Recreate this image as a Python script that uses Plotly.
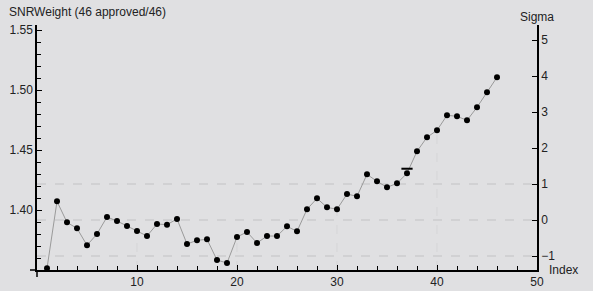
import plotly.graph_objects as go

index = list(range(1, 47))
snr_weight = [1.3514, 1.4072, 1.3897, 1.3847, 1.3706, 1.3800, 1.3942, 1.3908, 1.3867, 1.3825,
              1.3783, 1.3883, 1.3878, 1.3925, 1.3717, 1.3747, 1.3756, 1.3583, 1.3558, 1.3775,
              1.3817, 1.3725, 1.3783, 1.3783, 1.3864, 1.3822, 1.4006, 1.4097, 1.4022, 1.4006,
              1.4133, 1.4114, 1.4297, 1.4239, 1.4189, 1.4222, 1.4306, 1.4489, 1.4606, 1.4664,
              1.4789, 1.4781, 1.4747, 1.4856, 1.4981, 1.5106]
flag_index = [37]
flag_value = [1.4344]
sigma_mean = 1.39167
sigma_sd = 0.03
sigma_lines = [-1, 0, 1]
y_range = [1.35, 1.55417]
x_range = [0, 50]
left_ticks = [1.40, 1.45, 1.50, 1.55]
right_ticks = [-1, 0, 1, 2, 3, 4, 5]
title_text = "SNRWeight (46 approved/46)"

BG = "#e0e0e2"
FONT = "Liberation Sans"
TXT = "#222222"
PLOT_H = 245.0
PLOT_W = 500.0

fig = go.Figure()

shapes = []
for xv in (10, 20, 30, 40):
    shapes.append(dict(type="line", xref="x", yref="y", x0=xv, x1=xv,
                       y0=y_range[0], y1=snr_weight[index.index(xv)],
                       line=dict(color="#d5d5d7", width=1, dash="dash"), layer="below"))
for s in sigma_lines:
    yv = sigma_mean + s * sigma_sd
    shapes.append(dict(type="line", xref="x", yref="y", x0=x_range[0], x1=x_range[1],
                       y0=yv, y1=yv, line=dict(color="#c2c2c4", width=1, dash="dash"),
                       layer="below"))
shapes.append(dict(type="line", xref="paper", yref="paper", x0=-7 / PLOT_W, x1=0, y0=0, y1=0,
                   line=dict(color="black", width=1.5)))
shapes.append(dict(type="line", xref="paper", yref="paper", x0=0, x1=0, y0=0, y1=-7 / PLOT_H,
                   line=dict(color="black", width=1.5)))

fig.add_trace(go.Scatter(x=index, y=snr_weight, mode="lines+markers",
                         line=dict(color="#9a9a9a", width=1),
                         marker=dict(color="black", size=6),
                         showlegend=False, cliponaxis=False))
fig.add_trace(go.Scatter(x=flag_index, y=flag_value, mode="markers",
                         marker=dict(symbol="line-ew", size=8,
                                     line=dict(color="black", width=2)),
                         showlegend=False))
fig.add_trace(go.Scatter(x=[x_range[0]], y=[0], yaxis="y2", mode="markers",
                         marker=dict(opacity=0), showlegend=False, hoverinfo="skip"))

y2_range = [(y_range[0] - sigma_mean) / sigma_sd, (y_range[1] - sigma_mean) / sigma_sd]

fig.update_layout(
    width=593, height=291,
    margin=dict(l=37, r=56, t=25, b=21, autoexpand=False),
    paper_bgcolor=BG, plot_bgcolor=BG,
    font=dict(family=FONT, size=12, color=TXT),
    shapes=shapes,
    xaxis=dict(range=x_range, showgrid=False, zeroline=False, automargin=False,
               showline=True, linecolor="black", linewidth=1.5,
               ticks="inside", ticklen=5, tickcolor="black", tickwidth=1,
               tickvals=[10, 20, 30, 40, 50],
               minor=dict(dtick=2, ticks="inside", ticklen=4, tickcolor="black"),
               tickfont=dict(family=FONT, size=12, color=TXT)),
    yaxis=dict(range=y_range, showgrid=False, zeroline=False, automargin=False,
               showline=True, linecolor="black", linewidth=1.5,
               ticks="inside", ticklen=5, tickcolor="black", tickwidth=1,
               tickvals=left_ticks, tickformat=".2f",
               minor=dict(dtick=0.01, tick0=1.35, ticks="inside", ticklen=4, tickcolor="black"),
               tickfont=dict(family=FONT, size=12, color=TXT)),
    yaxis2=dict(range=y2_range, overlaying="y", side="right", showgrid=False,
                zeroline=False, showline=True, linecolor="black", linewidth=1.5,
                automargin=False,
                ticks="inside", ticklen=5, tickcolor="black", tickwidth=1,
                tickvals=right_ticks,
                tickfont=dict(family=FONT, size=12, color=TXT)),
    annotations=[
        dict(text=title_text, xref="paper", yref="paper", x=-30 / PLOT_W, y=1 + 13 / PLOT_H,
             xanchor="left", yanchor="middle", showarrow=False,
             font=dict(family=FONT, size=12, color=TXT)),
        dict(text="Sigma", xref="paper", yref="paper", x=1 + 0 / PLOT_W, y=1 + 8 / PLOT_H,
             xanchor="center", yanchor="middle", showarrow=False,
             font=dict(family=FONT, size=12, color=TXT)),
        dict(text="Index", xref="paper", yref="paper", x=1 + 10 / PLOT_W, y=0,
             xanchor="left", yanchor="middle", showarrow=False,
             font=dict(family=FONT, size=12, color=TXT)),
    ],
)

fig.write_html("out.html")
